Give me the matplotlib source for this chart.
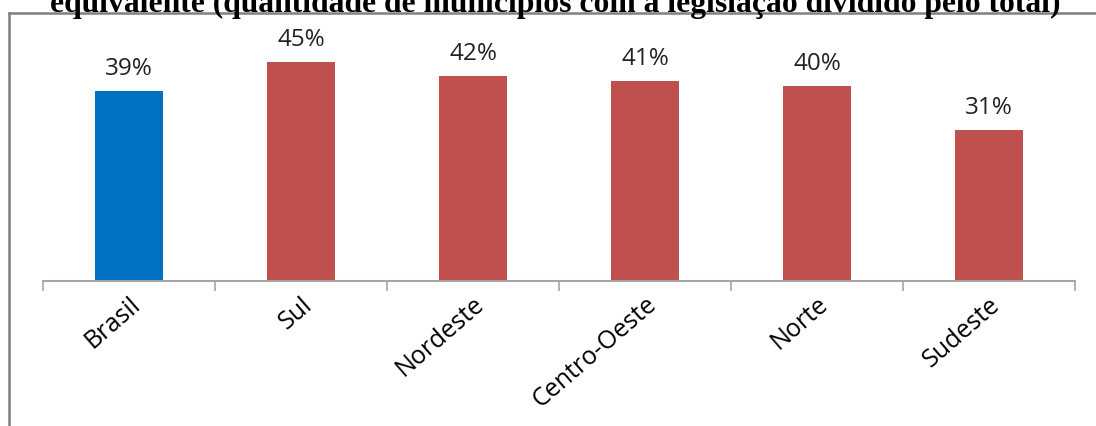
import numpy as np
import matplotlib.pyplot as plt
from matplotlib.lines import Line2D

# share of municipalities with the legislation, by region
regioes = ["Brasil", "Sul", "Nordeste", "Centro-Oeste", "Norte", "Sudeste"]
percentuais = [39, 45, 42, 41, 40, 31]
cores = ["#0070C0", "#C0504D", "#C0504D", "#C0504D", "#C0504D", "#C0504D"]

titulo = "equivalente (quantidade de municípios com a legislação dividido pelo total)"

W, H = 1096, 426
fig = plt.figure(figsize=(W / 100, H / 100), dpi=100)
fig.patch.set_facecolor("white")

# axes placed in pixel terms: baseline at y=281, from x=43 to x=1075
ax = fig.add_axes([43 / W, (H - 281) / H, (1075 - 43) / W, (281 - 13) / H])
x = np.arange(len(regioes))
ax.bar(x, percentuais, width=0.4, color=cores)
ax.set_xlim(-0.5, len(regioes) - 0.5)
ax.set_ylim(0, 55)

for xi, v in zip(x, percentuais):
    ax.annotate(f"{v}%", (xi, v), xytext=(0, 11.5), textcoords="offset points",
                ha="center", va="baseline", fontsize=17.5, family="Open Sans",
                color="#222222")

# tick marks between categories, labels at the centres
ax.set_xticks(np.arange(-0.5, len(regioes), 1.0))
ax.set_xticklabels([])
ax.tick_params(axis="x", which="major", length=7, width=1.2, color="#a6a6a6")
ax.set_xticks(x, minor=True)
ax.set_xticklabels(regioes, minor=True, rotation=41, ha="right",
                   rotation_mode="anchor", fontsize=18, family="Open Sans")
ax.tick_params(axis="x", which="minor", length=0, pad=8)
ax.set_yticks([])

for s in ("top", "right", "left"):
    ax.spines[s].set_visible(False)
ax.spines["bottom"].set_color("#a6a6a6")
ax.spines["bottom"].set_linewidth(1.5)

# chart frame (left and top edges)
fy = (H - 12.5) / H
fig.add_artist(Line2D([9 / W, 9 / W], [0, fy], transform=fig.transFigure,
                      color="#808080", lw=1.8))
fig.add_artist(Line2D([9 / W, 1], [fy, fy], transform=fig.transFigure,
                      color="#808080", lw=1.8))

fig.text(555 / W, fy + 0.002, titulo, ha="center", va="baseline",
         family="Liberation Serif", weight="bold", fontsize=22.8)

fig.savefig("out.png", dpi=100)
